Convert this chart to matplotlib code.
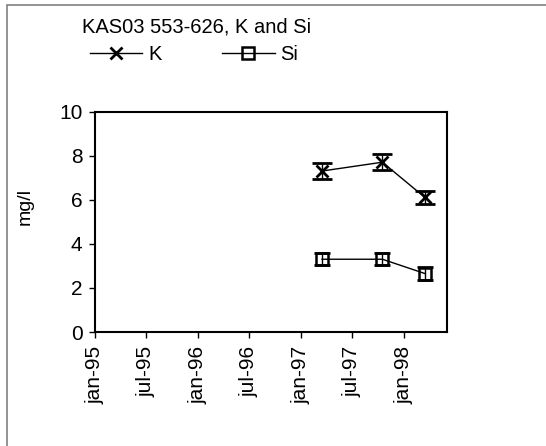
import matplotlib
matplotlib.use("Agg")
import matplotlib.pyplot as plt
from matplotlib.patches import Rectangle
import datetime as dt

plt.rcParams['font.family'] = ['Liberation Sans', 'DejaVu Sans']

# sampling dates and concentrations (mg/l)
dates = [dt.date(1997, 3, 15), dt.date(1997, 10, 15), dt.date(1998, 3, 15)]
k_vals = [7.3, 7.7, 6.1]
si_vals = [3.3, 3.3, 2.65]
k_err = [0.35, 0.35, 0.3]
si_err = [0.28, 0.28, 0.28]

title = "KAS03 553-626, K and Si"
tick_dates = [dt.date(1995, 1, 1), dt.date(1995, 7, 1), dt.date(1996, 1, 1),
              dt.date(1996, 7, 1), dt.date(1997, 1, 1), dt.date(1997, 7, 1),
              dt.date(1998, 1, 1)]
tick_labels = ["jan-95", "jul-95", "jan-96", "jul-96", "jan-97", "jul-97", "jan-98"]

fig = plt.figure(figsize=(5.46, 4.46), dpi=100)
ax = fig.add_axes([95 / 546, 1 - 332 / 446, (447 - 95) / 546, (332 - 111.5) / 446])

# outer chart frame (only left and top edges visible)
fig.add_artist(Rectangle((7 / 546, -0.2), 1.2, 1 - 5 / 446 + 0.2,
                         transform=fig.transFigure, fill=False,
                         edgecolor='#808080', lw=1.2))

# error bars
ax.errorbar(dates, k_vals, yerr=k_err, fmt='none', ecolor='black',
            elinewidth=1, capsize=7, capthick=2)
ax.errorbar(dates, si_vals, yerr=si_err, fmt='none', ecolor='black',
            elinewidth=1, capsize=6, capthick=2)

k_line, = ax.plot(dates, k_vals, color='black', lw=1, marker='x',
                  ms=9, mew=2, label='K')
si_line, = ax.plot(dates, si_vals, color='black', lw=1, marker='s',
                   ms=9, mew=1.8, mfc='none', label='Si')

ax.set_xlim(dt.date(1995, 1, 1), dt.date(1998, 6, 1))
ax.set_ylim(0, 10)
ax.set_yticks([0, 2, 4, 6, 8, 10])
ax.set_xticks(tick_dates)
ax.set_xticklabels(tick_labels, rotation=90, fontsize=15)
ax.tick_params(axis='y', labelsize=15, length=4, width=1, direction='out', pad=5)
ax.tick_params(axis='x', length=4, width=1, direction='out', pad=6)
for s in ax.spines.values():
    s.set_linewidth(1.5)

ax.set_ylabel("mg/l", fontsize=14)
ax.yaxis.set_label_coords(-0.175, 0.57)

fig.text(82 / 546, 1 - 27 / 446, title, fontsize=14.5, va='center', ha='left')

fig.legend(handles=[k_line, si_line], loc='center left',
           bbox_to_anchor=(90 / 546, 1 - 55 / 446), ncol=2, frameon=False,
           fontsize=14.5, handlelength=2.6, columnspacing=3.0, handletextpad=0.3,
           borderaxespad=0, borderpad=0)

fig.savefig("out.png", dpi=100)
